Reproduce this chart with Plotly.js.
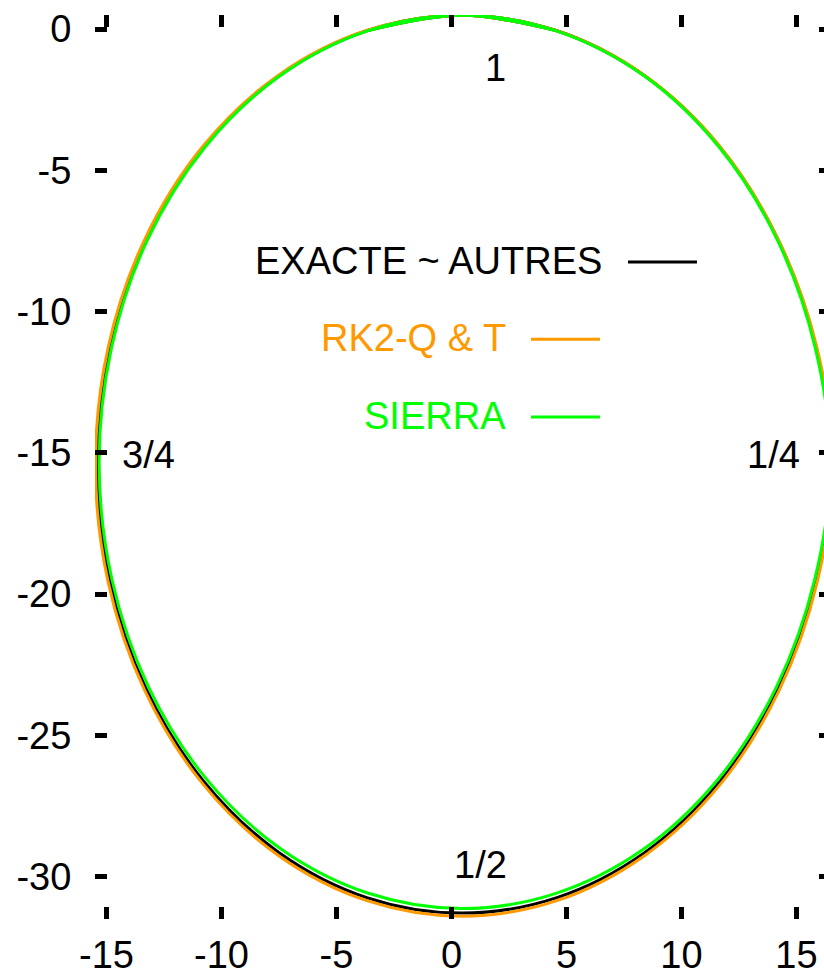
<!DOCTYPE html>
<html>
<head>
<meta charset="utf-8">
<script src="https://cdn.plot.ly/plotly-3.0.1.min.js"></script>
<style>
html,body{margin:0;padding:0;background:#fff;overflow:hidden;width:824px;height:974px;}
#chart{width:840px;height:974px;}
</style>
</head>
<body>
<div id="chart"></div>
<script>
// ---- data ----
const xTicks = [-15, -10, -5, 0, 5, 10, 15];
const yTicks = [0, -5, -10, -15, -20, -25, -30];

const seriesNames = ["EXACTE ~ AUTRES", "RK2-Q & T", "SIERRA"];
const seriesColors = ["#000000", "#ff9900", "#00ff00"];

const exactX = [-3.65, 0.45, 4.55, 8.38, 11.66, 14.20, 15.86, 16.52, 15.86, 14.20, 11.66, 8.38, 4.55, 0.45, -3.65, -7.48, -10.76, -13.28, -14.86, -15.40, -14.86, -13.28, -10.76, -7.48, -3.65, 0.45, 4.55];
const exactY = [-0.05, 0.49, -0.05, -1.64, -4.16, -7.46, -11.29, -15.40, -19.51, -23.35, -26.64, -29.16, -30.75, -31.29, -30.75, -29.16, -26.64, -23.35, -19.51, -15.40, -11.29, -7.46, -4.16, -1.64, -0.05, 0.49, -0.05];

const rk2X = [-3.66, 0.45, 4.55, 8.38, 11.67, 14.21, 15.89, 16.56, 15.91, 14.26, 11.72, 8.42, 4.58, 0.45, -3.68, -7.53, -10.83, -13.35, -14.94, -15.48, -14.93, -13.33, -10.79, -7.49, -3.66, 0.45, 4.55];
const rk2Y = [-0.04, 0.49, -0.05, -1.63, -4.15, -7.45, -11.28, -15.40, -19.53, -23.38, -26.70, -29.24, -30.85, -31.40, -30.85, -29.25, -26.70, -23.39, -19.53, -15.40, -11.27, -7.43, -4.13, -1.61, -0.04, 0.49, -0.05];

const sierraX = [-3.65, 0.45, 4.55, 8.37, 11.64, 14.17, 15.82, 16.47, 15.79, 14.12, 11.58, 8.31, 4.51, 0.45, -3.61, -7.40, -10.66, -13.17, -14.76, -15.32, -14.79, -13.23, -10.73, -7.47, -3.65, 0.45, 4.55];
const sierraY = [-0.06, 0.49, -0.06, -1.65, -4.18, -7.47, -11.30, -15.40, -19.49, -23.30, -26.56, -29.05, -30.60, -31.13, -30.59, -29.03, -26.54, -23.29, -19.49, -15.40, -11.31, -7.48, -4.19, -1.66, -0.06, 0.49, -0.06];

const phaseLabels = ["1", "1/4", "1/2", "3/4"];
const phaseX = [1.93, 14.01, 1.24, -13.17];
const phaseY = [-1.38, -15.06, -29.6, -15.06];

// ---- drawing ----
const FONT = "Liberation Sans, Arial, Helvetica, sans-serif";
const FS = 38;
const xs = [exactX, rk2X, sierraX];
const ys = [exactY, rk2Y, sierraY];

const traces = seriesNames.map((name, i) => ({
  type: "scatter",
  mode: "lines",
  name: name,
  x: xs[i],
  y: ys[i],
  line: {color: seriesColors[i], width: 3, shape: "spline", smoothing: 1},
  hoverinfo: "skip"
}));

// legend (gnuplot-style: text right-aligned, sample line on the right)
const legendTextRight = [0.6916, 0.5612, 0.5612];
const legendY = [0.7279, 0.6422, 0.5564];
const legendLineX0 = [0.7242, 0.5924, 0.5924];
const legendLineX1 = [0.8179, 0.6861, 0.6861];

const annotations = [];
const shapes = [];
seriesNames.forEach((name, i) => {
  annotations.push({
    xref: "paper", yref: "paper", x: legendTextRight[i], y: legendY[i],
    xanchor: "right", yanchor: "middle", showarrow: false,
    text: name, font: {family: FONT, size: FS, color: seriesColors[i]}
  });
  shapes.push({
    type: "line", xref: "paper", yref: "paper",
    x0: legendLineX0[i], x1: legendLineX1[i], y0: legendY[i] - 0.001, y1: legendY[i] - 0.001,
    line: {color: seriesColors[i], width: 3}
  });
});
phaseLabels.forEach((t, i) => {
  annotations.push({
    xref: "x", yref: "y", x: phaseX[i], y: phaseY[i],
    xanchor: "center", yanchor: "middle", showarrow: false,
    text: t, font: {family: FONT, size: FS, color: "#000"}
  });
});

const axisCommon = {
  showgrid: false, zeroline: false,
  ticks: "inside", ticklen: 12, tickwidth: 5, tickcolor: "#000",
  showline: true, linecolor: "rgba(0,0,0,0)", linewidth: 1,
  mirror: "ticks",
  tickfont: {family: FONT, size: FS, color: "#000"},
  tickmode: "array"
};

const layout = {
  width: 840, height: 974,
  margin: {l: 95, r: 9, t: 15, b: 55, pad: 0},
  paper_bgcolor: "#fff", plot_bgcolor: "#fff",
  showlegend: false,
  xaxis: Object.assign({}, axisCommon, {
    range: [-15.5, 16.5], tickvals: xTicks, ticktext: xTicks.map(String),
    ticklabelstandoff: 2
  }),
  yaxis: Object.assign({}, axisCommon, {
    range: [-31.5, 0.5], tickvals: yTicks, ticktext: yTicks.map(String),
    ticklabelstandoff: 15
  }),
  annotations: annotations,
  shapes: shapes
};

Plotly.newPlot("chart", traces, layout, {staticPlot: true, displayModeBar: false});
</script>
</body>
</html>
